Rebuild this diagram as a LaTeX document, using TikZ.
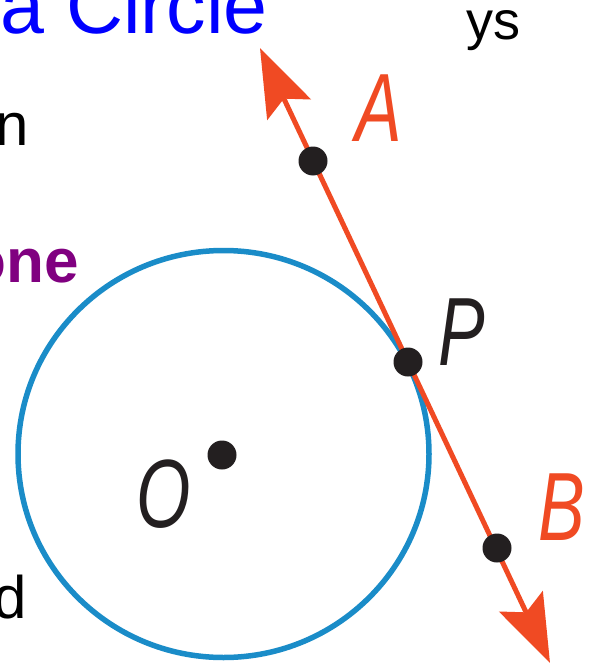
\documentclass[tikz,border=0pt]{standalone}
\usepackage{fontspec}
\setmainfont{Liberation Sans}
\usetikzlibrary{arrows.meta}
\definecolor{tred}{HTML}{F04A23}
\definecolor{tblue}{HTML}{1A8CC8}
\definecolor{tpurple}{HTML}{800080}
\definecolor{tdark}{HTML}{231F20}
\newcommand\mylab[1]{\scalebox{0.72}[1]{\fontsize{97}{97}\selectfont\itshape #1}}
\begin{document}
\begin{tikzpicture}[x=1pt,y=-1pt,
  sidetext/.style={inner sep=0pt, font=\fontsize{60}{60}\selectfont},
  ptlabel/.style={inner sep=0pt, anchor=base},
  dotnode/.style={circle, fill=tdark, minimum size=29pt, inner sep=0pt},
  tangent/.style={tred, line width=5pt,
    {Stealth[length=68pt, width=48pt, inset=12pt]}-{Stealth[length=68pt, width=48pt, inset=12pt]}},
  circ/.style={tblue, line width=5.5pt}]
\useasboundingbox (0,0) rectangle (590,666);
\clip (0,0) rectangle (590,666);
\fill[white] (0,0) rectangle (590,666);
% texts
\node[inner sep=0pt, anchor=base west, text=blue, font=\fontsize{79}{79}\selectfont] (title) at (0,34) {a Circle};
\node[inner sep=0pt, anchor=base west, font=\fontsize{54}{54}\selectfont] (ys) at (466,40) {ys};
\node[sidetext, anchor=base east] (n) at (29,146) {n};
\node[sidetext, anchor=base east, text=tpurple, font=\fontsize{62}{62}\selectfont\bfseries] (one) at (79,282) {one};
\node[sidetext, anchor=base east] (d) at (27,618) {d};
% circle
\draw[circ] (223.5,454) ellipse [x radius=205.5, y radius=203.5];
% tangent line
\coordinate (T1) at (260,48);
\coordinate (T2) at (550,663);
\draw[tangent] (T1) -- (T2);
% points
\node[dotnode] (A) at (313,161) {};
\node[dotnode] (P) at (408,362) {};
\node[dotnode] (B) at (497,548) {};
\node[dotnode] (O) at (222,455) {};
% labels
\node[ptlabel, text=tred] (lA) at (379,142) {\mylab{A}};
\node[ptlabel, text=tdark] (lP) at (462,365) {\mylab{P}};
\node[ptlabel, text=tred] (lB) at (562,540) {\mylab{B}};
\node[ptlabel, text=tdark] (lO) at (164,527) {\mylab{O}};
\end{tikzpicture}
\end{document}
